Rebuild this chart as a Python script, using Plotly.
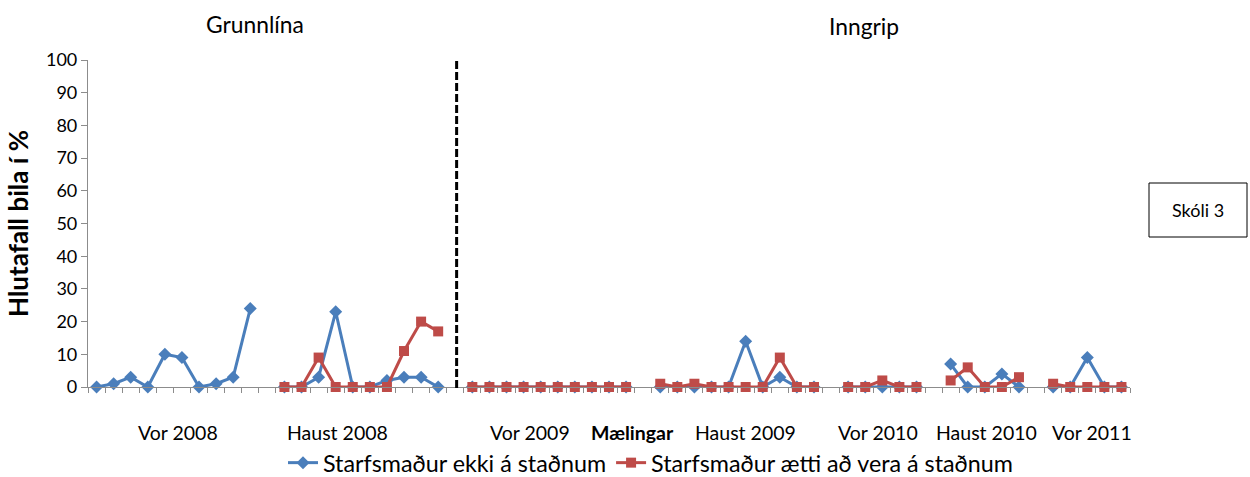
import plotly.graph_objects as go

# ---- data ----
# 61 category slots (measurement sessions), None = gap between periods
blue_values = (
    [0, 1, 3, 0, 10, 9, 0, 1, 3, 24] + [None] +          # Vor 2008
    [0, 0, 3, 23, 0, 0, 2, 3, 3, 0] + [None] +           # Haust 2008
    [0, 0, 0, 0, 0, 0, 0, 0, 0, 0] + [None] +            # Vor 2009
    [0, 0, 0, 0, 0, 14, 0, 3, 0, 0] + [None] +           # Haust 2009
    [0, 0, 0, 0, 0] + [None] +                           # Vor 2010
    [7, 0, 0, 4, 0] + [None] +                           # Haust 2010
    [0, 0, 9, 0, 0]                                      # Vor 2011
)
red_values = (
    [None] * 10 + [None] +
    [0, 0, 9, 0, 0, 0, 0, 11, 20, 17] + [None] +
    [0, 0, 0, 0, 0, 0, 0, 0, 0, 0] + [None] +
    [1, 0, 1, 0, 0, 0, 0, 9, 0, 0] + [None] +
    [0, 0, 2, 0, 0] + [None] +
    [2, 6, 0, 0, 3] + [None] +
    [1, 0, 0, 0, 0]
)
x_idx = list(range(len(blue_values)))

series_names = ["Starfsmaður ekki á staðnum", "Starfsmaður ætti að vera á staðnum"]
period_labels = ["Vor 2008", "Haust 2008", "Vor 2009", "Mælingar", "Haust 2009",
                 "Vor 2010", "Haust 2010", "Vor 2011"]
period_label_x = [4.77, 14.1, 25.4, 31.35, 38.0, 45.75, 52.1, 58.3]
period_label_bold = [False, False, False, True, False, False, False, False]
y_ticks = list(range(0, 101, 10))

FONT = "Lato, 'Open Sans', sans-serif"
BLUE = "#4a7ebb"
RED = "#be4b48"

fig = go.Figure()
fig.add_trace(go.Scatter(
    x=x_idx, y=blue_values, name=series_names[0], mode="lines+markers",
    line=dict(color=BLUE, width=3), marker=dict(symbol="diamond", size=10, color=BLUE),
    cliponaxis=False, connectgaps=False))
fig.add_trace(go.Scatter(
    x=x_idx, y=red_values, name=series_names[1], mode="lines+markers",
    line=dict(color=RED, width=3), marker=dict(symbol="square", size=10, color=RED),
    cliponaxis=False, connectgaps=False))

n = len(blue_values)
fig.update_layout(
    width=1250, height=477,
    margin=dict(l=88, r=120, t=60, b=90, autoexpand=False),
    paper_bgcolor="white", plot_bgcolor="white",
    font=dict(family=FONT, size=18, color="#000"),
    showlegend=True,
    legend=dict(orientation="h", x=(283 - 88) / 1042, xanchor="left",
                y=(387 - 463) / 327, yanchor="middle",
                font=dict(size=23.3, family=FONT), itemwidth=30,
                bgcolor="rgba(0,0,0,0)"),
    xaxis=dict(range=[-0.5, n - 0.5], showgrid=False, zeroline=False, automargin=False,
               showline=True, linecolor="#8c8c8c", linewidth=1.2,
               tickmode="array", tickvals=[i - 0.5 for i in range(n + 1)],
               ticks="outside", ticklen=5, tickcolor="#8c8c8c",
               showticklabels=False),
    yaxis=dict(range=[0, 100], showgrid=False, zeroline=False, automargin=False,
               showline=True, linecolor="#8c8c8c", linewidth=1.2,
               tickmode="array", tickvals=y_ticks,
               ticks="outside", ticklen=6, tickcolor="#8c8c8c",
               tickfont=dict(size=18),
               title=dict(text="<b>Hlutafall bila í %</b>", font=dict(size=26), standoff=9)),
)

for lab, xv, b in zip(period_labels, period_label_x, period_label_bold):
    fig.add_annotation(x=xv, xref="x", y=(387 - 432) / 327, yref="paper",
                       text=f"<b>{lab}</b>" if b else lab, showarrow=False,
                       font=dict(size=19.5), xanchor="center", yanchor="middle")

fig.add_annotation(x=9.28, xref="x", y=(387 - 24) / 327, yref="paper", text="Grunnlína",
                   showarrow=False, font=dict(size=22.8), xanchor="center", yanchor="middle")
fig.add_annotation(x=44.93, xref="x", y=(387 - 26) / 327, yref="paper", text="Inngrip",
                   showarrow=False, font=dict(size=22.8), xanchor="center", yanchor="middle")

# phase divider
fig.add_shape(type="line", xref="x", yref="paper", x0=21.08, x1=21.08, y0=-0.003, y1=1.0,
              line=dict(color="black", width=3, dash="8px,3px"))

# school box
fig.add_shape(type="rect", xref="paper", yref="paper",
              x0=(1149 - 88) / 1042, x1=(1247 - 88) / 1042,
              y0=(387 - 237) / 327, y1=(387 - 183) / 327,
              line=dict(color="black", width=1), fillcolor="white")
fig.add_annotation(x=(1198 - 88) / 1042, xref="paper", y=(387 - 210) / 327, yref="paper",
                   text="Skóli 3", showarrow=False, font=dict(size=18),
                   xanchor="center", yanchor="middle")

fig.write_html("out.html", config={"displayModeBar": False},
               post_script="document.body.style.margin='0';document.body.style.overflow='hidden';")
